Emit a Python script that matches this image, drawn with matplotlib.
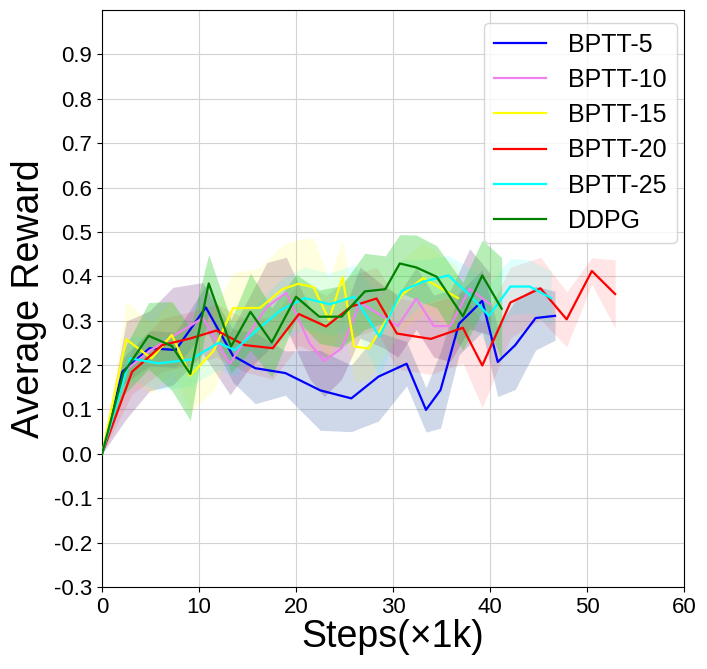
import matplotlib
matplotlib.use("Agg")
import matplotlib.pyplot as plt
import numpy as np

plt.rcParams['font.family'] = ['Liberation Sans', 'DejaVu Sans']
plt.rcParams['axes.unicode_minus'] = False

labels = ["BPTT-5", "BPTT-10", "BPTT-15", "BPTT-20", "BPTT-25", "DDPG"]
line_colors = ["blue", "violet", "yellow", "red", "cyan", "green"]

x_b5 = [0, 2.1, 4.9, 7.6, 10.7, 13.5, 15.8, 18.9, 22.5, 25.7, 28.5, 31.4, 33.4, 34.9, 36.8, 39.2, 40.8, 42.6, 44.7, 46.7]
y_b5 = [0, 0.185, 0.238, 0.234, 0.330, 0.221, 0.193, 0.182, 0.143, 0.125, 0.174, 0.203, 0.099, 0.144, 0.293, 0.345, 0.207, 0.245, 0.306, 0.311]
s_b5 = [0, 0.03, 0.04, 0.04, 0.05, 0.06, 0.08, 0.05, 0.09, 0.075, 0.1, 0.05, 0.05, 0.086, 0.07, 0.07, 0.078, 0.1, 0.072, 0.055]

x_b10 = [0, 2.5, 4.9, 7.3, 10.4, 13.2, 15.1, 17.0, 19.0, 21.4, 22.9, 24.7, 26.6, 29.0, 30.5, 32.4, 34.2, 35.9, 37.9, 40.0]
y_b10 = [0, 0.189, 0.232, 0.265, 0.306, 0.203, 0.27, 0.331, 0.363, 0.249, 0.209, 0.238, 0.341, 0.309, 0.288, 0.350, 0.288, 0.288, 0.372, 0.337]
s_b10 = [0, 0.11, 0.09, 0.11, 0.08, 0.07, 0.08, 0.1, 0.08, 0.08, 0.08, 0.07, 0.08, 0.07, 0.07, 0.07, 0.07, 0.08, 0.09, 0.07]

x_b15 = [0, 2.5, 5.1, 7.2, 9.1, 11.5, 13.5, 16.3, 18.6, 20.2, 21.8, 23.4, 24.8, 26.0, 27.5, 30.9, 33.1, 36.7]
y_b15 = [0, 0.258, 0.215, 0.268, 0.176, 0.232, 0.328, 0.329, 0.371, 0.383, 0.376, 0.302, 0.398, 0.242, 0.237, 0.358, 0.396, 0.351]
s_b15 = [0, 0.085, 0.08, 0.08, 0.08, 0.09, 0.08, 0.09, 0.1, 0.1, 0.11, 0.09, 0.085, 0.08, 0.07, 0.08, 0.08, 0.07]

x_b20 = [0, 3.1, 6.2, 9.1, 11.8, 14.7, 17.6, 20.3, 23.1, 25.7, 28.3, 30.4, 33.9, 37.2, 39.2, 42.1, 45.2, 47.9, 50.5, 52.9]
y_b20 = [0, 0.185, 0.245, 0.260, 0.278, 0.245, 0.238, 0.315, 0.287, 0.332, 0.350, 0.271, 0.259, 0.284, 0.199, 0.341, 0.373, 0.303, 0.412, 0.360]
s_b20 = [0, 0.05, 0.06, 0.06, 0.06, 0.06, 0.07, 0.07, 0.07, 0.07, 0.07, 0.08, 0.08, 0.08, 0.095, 0.08, 0.07, 0.062, 0.03, 0.077]

x_b25 = [0, 2.9, 5.8, 9.1, 12.0, 13.7, 16.3, 18.5, 20.9, 23.5, 26.0, 28.6, 30.9, 33.1, 35.7, 37.8, 39.9, 42.1, 44.1, 46.3]
y_b25 = [0, 0.215, 0.204, 0.212, 0.25, 0.234, 0.285, 0.325, 0.351, 0.337, 0.354, 0.264, 0.367, 0.388, 0.402, 0.36, 0.311, 0.377, 0.377, 0.351]
s_b25 = [0, 0.05, 0.06, 0.06, 0.06, 0.06, 0.06, 0.07, 0.07, 0.07, 0.072, 0.09, 0.07, 0.05, 0.045, 0.06, 0.07, 0.064, 0.06, 0.06]

x_ddpg = [0, 2.2, 4.8, 7.2, 9.1, 11.0, 13.3, 15.3, 17.5, 20.0, 22.4, 24.7, 27.1, 29.2, 30.7, 32.4, 34.5, 37.2, 39.2, 41.2]
y_ddpg = [0, 0.182, 0.266, 0.243, 0.180, 0.384, 0.242, 0.320, 0.251, 0.354, 0.309, 0.309, 0.366, 0.371, 0.429, 0.420, 0.399, 0.310, 0.402, 0.327]
s_ddpg = [0, 0.05, 0.075, 0.1, 0.105, 0.065, 0.06, 0.087, 0.078, 0.05, 0.06, 0.07, 0.086, 0.075, 0.065, 0.073, 0.07, 0.076, 0.08, 0.115]

fill_colors = ["#4c72b0", "#844891", "yellow", "red", "cyan", "limegreen"]
fill_alphas = [0.27, 0.28, 0.12, 0.1, 0.12, 0.35]

xticks = [0, 10, 20, 30, 40, 50, 60]
yticks = [-0.3, -0.2, -0.1, 0.0, 0.1, 0.2, 0.3, 0.4, 0.5, 0.6, 0.7, 0.8, 0.9]

series = [(x_b5, y_b5, s_b5), (x_b10, y_b10, s_b10), (x_b15, y_b15, s_b15),
          (x_b20, y_b20, s_b20), (x_b25, y_b25, s_b25), (x_ddpg, y_ddpg, s_ddpg)]

fig = plt.figure(figsize=(7.07, 6.69), dpi=100)
ax = fig.add_axes([0.1443, 0.1226, 0.8232, 0.8624])

for (xs, ys, ss), fc, fa in zip(series, fill_colors, fill_alphas):
    xs = np.array(xs); ys = np.array(ys); ss = np.array(ss)
    ax.fill_between(xs, ys - ss, ys + ss, color=fc, alpha=fa, linewidth=0, zorder=1)

for (xs, ys, ss), lc, lab in zip(series, line_colors, labels):
    ax.plot(xs, ys, color=lc, lw=1.6, label=lab, zorder=3)

ax.set_xlim(0, 60)
ax.set_ylim(-0.3, 1.0)
ax.set_xticks(xticks)
ax.set_yticks(yticks)
ax.set_yticklabels([f"{v:.1f}" for v in yticks])
ax.tick_params(labelsize=16)
ax.grid(True, color="#d3d3d3", lw=0.8, zorder=0)
ax.set_axisbelow(True)
ax.set_xlabel("Steps(×1k)", fontsize=27, labelpad=1)
ax.set_ylabel("Average Reward", fontsize=27, labelpad=5)

ax.legend(loc="upper right", fontsize=18, bbox_to_anchor=(1.009, 1.0),
          handlelength=2.05, handletextpad=0.9, labelspacing=0.45, framealpha=0.8)

fig.savefig("out.png", dpi=100)
